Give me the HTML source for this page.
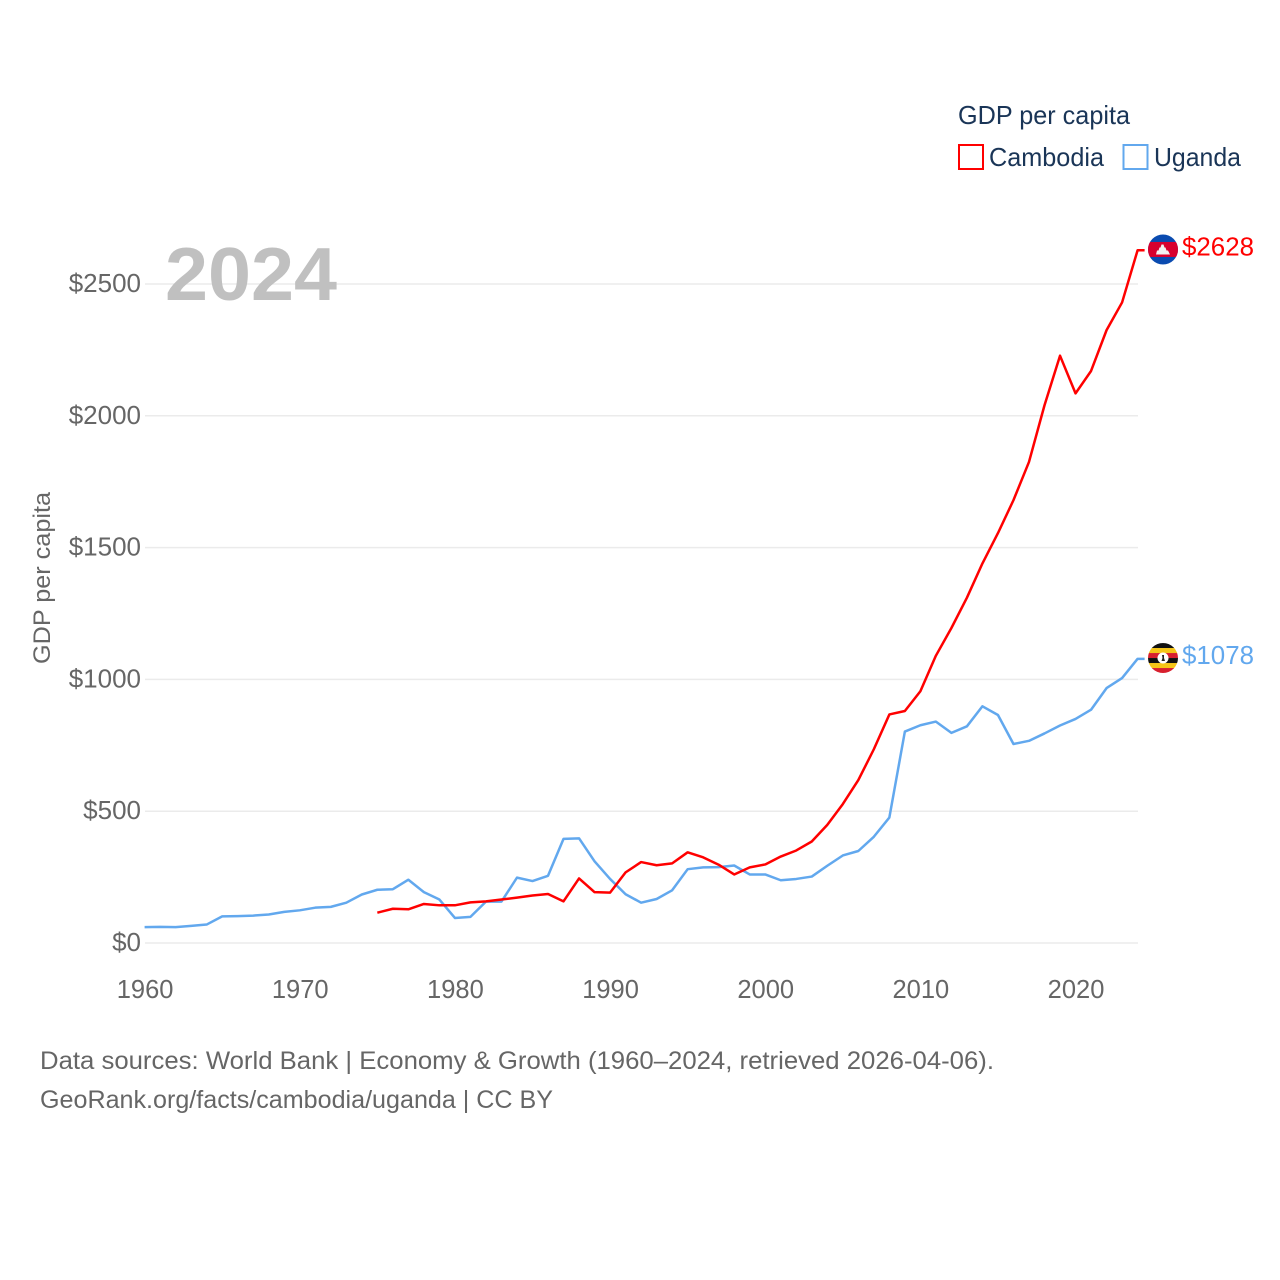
<!DOCTYPE html>
<html lang="en">
<head>
<meta charset="utf-8">
<title>GDP per capita: Cambodia and Uganda</title>
<style>
html,body{margin:0;padding:0;background:#fff;width:1280px;height:1280px;overflow:hidden}
svg{display:block}
text{font-family:"Liberation Sans",sans-serif}
</style>
</head>
<body>
<svg id="chart" xmlns="http://www.w3.org/2000/svg" width="1280" height="1280" viewBox="0 0 1280 1280">
  <rect width="1280" height="1280" fill="#fff"/>
  <g id="grid"></g>
  <g id="yticks"></g>
  <g id="xticks"></g>
  <text x="165" y="300" font-size="75" font-weight="700" fill="#c0c0c0" textLength="172" lengthAdjust="spacingAndGlyphs">2024</text>
  <text transform="translate(50,664) rotate(-90)" font-size="24" fill="#666" textLength="172" lengthAdjust="spacingAndGlyphs">GDP per capita</text>
  <g id="series"></g>
  <g id="ends"></g>
  <g>
    <text x="958" y="124" font-size="26" fill="#1a3557" textLength="172" lengthAdjust="spacingAndGlyphs">GDP per capita</text>
    <rect x="959" y="145" width="24" height="24" fill="none" stroke="#ff0000" stroke-width="2"/>
    <text x="989" y="166" font-size="26" fill="#1a3557" textLength="115" lengthAdjust="spacingAndGlyphs">Cambodia</text>
    <rect x="1123.500" y="145" width="24" height="24" fill="none" stroke="#62a8ee" stroke-width="2"/>
    <text x="1154" y="166" font-size="26" fill="#1a3557" textLength="87" lengthAdjust="spacingAndGlyphs">Uganda</text>
  </g>
  <text x="40" y="1069" font-size="25" fill="#666" textLength="954" lengthAdjust="spacingAndGlyphs">Data sources: World Bank | Economy &amp; Growth (1960–2024, retrieved 2026-04-06).</text>
  <text x="40" y="1108" font-size="25" fill="#666" textLength="513" lengthAdjust="spacingAndGlyphs">GeoRank.org/facts/cambodia/uganda | CC BY</text>
</svg>
<script>
const xTickYears = [1960, 1970, 1980, 1990, 2000, 2010, 2020];
const yTickValues = [0, 500, 1000, 1500, 2000, 2500];
const ugandaStartYear = 1960;
const ugandaValues = [60,61,60,65,70,101,102,104,108,118,124,134,137,153,184,202,204,240,193,165,95,99,157,157,248,235,255,395,397,310,243,185,153,167,200,280,287,288,294,260,260,238,243,252,293,332,349,403,476,802,826,840,797,822,898,865,755,767,795,825,850,885,967,1005,1078];
const cambodiaStartYear = 1975;
const cambodiaValues = [115,130,128,148,143,143,154,158,165,172,180,186,158,245,193,191,268,307,295,302,344,325,297,260,287,298,328,351,385,448,527,618,735,867,880,955,1090,1195,1310,1440,1555,1680,1825,2040,2228,2085,2170,2325,2430,2628];

const NS = 'http://www.w3.org/2000/svg';
const xScale = year => 144.6 + (year - 1960) * (993 / 64);
const yScale = value => 943 - value * 0.2636;

function make(tag, attrs, parent, text) {
  const el = document.createElementNS(NS, tag);
  for (const k in attrs) el.setAttribute(k, attrs[k]);
  if (text !== undefined) el.textContent = text;
  parent.appendChild(el);
  return el;
}

const grid = document.getElementById('grid');
const yticks = document.getElementById('yticks');
const xticks = document.getElementById('xticks');
const series = document.getElementById('series');
const ends = document.getElementById('ends');

yTickValues.forEach(v => {
  const y = yScale(v);
  const line = make('line', {x1: 145, x2: 1138, y1: y, y2: y, stroke: '#ebebeb', 'stroke-width': 1.500}, grid);
  
  
  const label = make('text', {x: 141, y: y + 8, 'text-anchor': 'end', 'font-size': 26, fill: '#666'}, yticks, '$' + v);
  
  
});

xTickYears.forEach(yr => {
  const label = make('text', {x: xScale(yr) + 0.500, y: 998, 'text-anchor': 'middle', 'font-size': 25.500, fill: '#666'}, xticks, String(yr));
  
  
});

function drawLine(values, startYear, color, name) {
  const pts = values.map((v, i) => xScale(startYear + i).toFixed(2) + ',' + yScale(v).toFixed(2));
  const last = values[values.length - 1];
  pts.push((xScale(startYear + values.length - 1) + 7).toFixed(2) + ',' + yScale(last).toFixed(2));
  const line = make('polyline', {points: pts.join(' '), fill: 'none', stroke: color, 'stroke-width': 2.500, 'stroke-linejoin': 'round'}, series);
  
  
}
drawLine(ugandaValues, ugandaStartYear, '#62a8ee', 'uganda-line');
drawLine(cambodiaValues, cambodiaStartYear, '#ff0000', 'cambodia-line');

function clipFor(id, cy) {
  const defs = make('clipPath', {id: id}, ends);
  make('circle', {cx: 1163, cy: cy, r: 15}, defs);
}

function drawEnd(value, color, name) {
  const y = yScale(value);
  const label = make('text', {x: 1182, y: y + 5, 'font-size': 25.500, fill: color, textLength: 72, lengthAdjust: 'spacingAndGlyphs'}, ends, '$' + value);
  
  
  return y;
}

const cy = drawEnd(cambodiaValues[cambodiaValues.length - 1], '#ff0000', 'cambodia') - 0.800;
clipFor('clip-kh', cy);
const kh = make('g', {'clip-path': 'url(#clip-kh)'}, ends);


make('rect', {x: 1148, y: cy - 15, width: 30, height: 30, fill: '#0a4bb0'}, kh);
make('rect', {x: 1148, y: cy - 7.500, width: 30, height: 15, fill: '#d8002e'}, kh);
make('path', {d: 'M1156 ' + (cy + 5) + 'h14l-2 -4h-1.500l-1 -3h-1l-1 -3h-2l-1 3h-1l-1 3h-1.500z', fill: '#f2f2f2'}, kh);

const uy = drawEnd(ugandaValues[ugandaValues.length - 1], '#62a8ee', 'uganda') - 0.800;
clipFor('clip-ug', uy);
const ug = make('g', {'clip-path': 'url(#clip-ug)'}, ends);


['#111111', '#f5c518', '#d8202e', '#111111', '#f5c518', '#d8202e'].forEach((c, i) => {
  make('rect', {x: 1148, y: uy - 15 + i * 5, width: 30, height: 5.200, fill: c}, ug);
});
make('circle', {cx: 1163, cy: uy, r: 5.500, fill: '#fff'}, ug);
make('path', {d: 'M1162 ' + (uy - 3) + 'h2v3l1 3h-3.500l1 -3z', fill: '#222'}, ug);
</script>
</body>
</html>
